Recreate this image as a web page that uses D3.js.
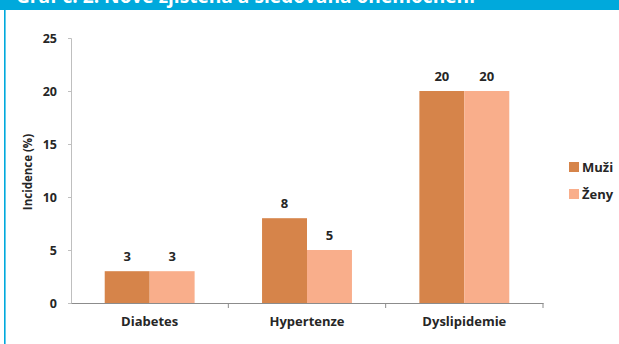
<!DOCTYPE html>
<html><head><meta charset="utf-8">
<script src="https://cdn.jsdelivr.net/npm/d3@7"></script>
<style>body{margin:0;background:#fff;overflow:hidden}</style>
</head><body>
<svg id="c" width="619" height="344"></svg>
<script>
const categories = ["Diabetes", "Hypertenze", "Dyslipidemie"];
const seriesNames = ["Muži", "Ženy"];
const muzi = [3, 8, 20];
const zeny = [3, 5, 20];
const yTicks = [0, 5, 10, 15, 20, 25];
const title = "Graf č. 2: Nově zjištěná a sledovaná onemocnění";
const yTitle = "Incidence (%)";

const colors = ["#d6844a", "#f9ae8b"];
const font = "'Open Sans', Lato, sans-serif";
const txt = "#262626";
const svg = d3.select("#c");

// header bar
svg.append("rect").attr("x",0).attr("y",0).attr("width",619).attr("height",10).attr("fill","#00a9dc");
svg.append("text").attr("x",16).attr("y",3).attr("fill","#fff").attr("font-family",font)
  .attr("font-weight","bold").attr("font-size",20).attr("textLength",459).attr("lengthAdjust","spacingAndGlyphs").text(title);
svg.append("rect").attr("x",4).attr("y",0).attr("width",1.6).attr("height",344).attr("fill","#00a9dc");

const x0 = d3.scaleBand().domain(categories).range([71, 543]).paddingInner(0).paddingOuter(0);
const x1 = d3.scaleBand().domain(seriesNames).range([0, x0.bandwidth()]).paddingInner(0).paddingOuter(0.75);
const y = d3.scaleLinear().domain([0, 25]).range([303, 38]);

// y axis
const yAxis = d3.axisLeft(y).tickValues(yTicks).tickSize(3).tickPadding(11);
const gy = svg.append("g").attr("transform","translate(71,0)").call(yAxis);
gy.select(".domain").attr("stroke","#bfbfbf");
gy.selectAll(".tick line").attr("stroke","#bfbfbf");
gy.selectAll(".tick text").attr("font-family",font).attr("font-weight","bold").attr("font-size",12.5).attr("fill",txt);

svg.append("text").attr("transform","translate(32,172) rotate(-90)").attr("text-anchor","middle")
  .attr("font-family",font).attr("font-weight","bold").attr("font-size",11.5).attr("fill",txt).text(yTitle);

const data = categories.map((c,i)=>({cat:c, vals:[muzi[i], zeny[i]]}));

const g = svg.append("g");
data.forEach(d=>{
  d.vals.forEach((v,j)=>{
    const bx = x0(d.cat) + x1(seriesNames[j]);
    g.append("rect").attr("x",bx).attr("y",y(v)).attr("width",x1.bandwidth()).attr("height",y(0)-y(v)).attr("fill",colors[j]);
    g.append("text").attr("x",bx + x1.bandwidth()/2).attr("y",y(v)-10).attr("text-anchor","middle")
      .attr("font-family",font).attr("font-weight","bold").attr("font-size",13).attr("fill",txt).text(v);
  });
});

// x axis
const xAxis = d3.axisBottom(x0).tickSize(0).tickPadding(14);
const gx = svg.append("g").attr("transform","translate(0,303)").call(xAxis);
gx.select(".domain").attr("stroke","#8c8c8c");
gx.selectAll(".tick text").attr("font-family",font).attr("font-weight","bold").attr("font-size",13).attr("fill",txt);
const bounds = categories.map(c=>x0(c)+x0.bandwidth());
svg.append("g").selectAll("line").data(bounds).join("line")
  .attr("x1",d=>d).attr("x2",d=>d).attr("y1",303).attr("y2",308).attr("stroke","#8c8c8c");

// legend
const lg = svg.append("g");
seriesNames.forEach((s,i)=>{
  const ly = 167 + i*27;
  lg.append("rect").attr("x",569).attr("y",ly-5).attr("width",10).attr("height",10).attr("fill",colors[i]);
  lg.append("text").attr("x",582).attr("y",ly+4.5).attr("font-family",font).attr("font-weight","bold")
    .attr("font-size",13).attr("fill",txt).text(s);
});
</script>
</body></html>
